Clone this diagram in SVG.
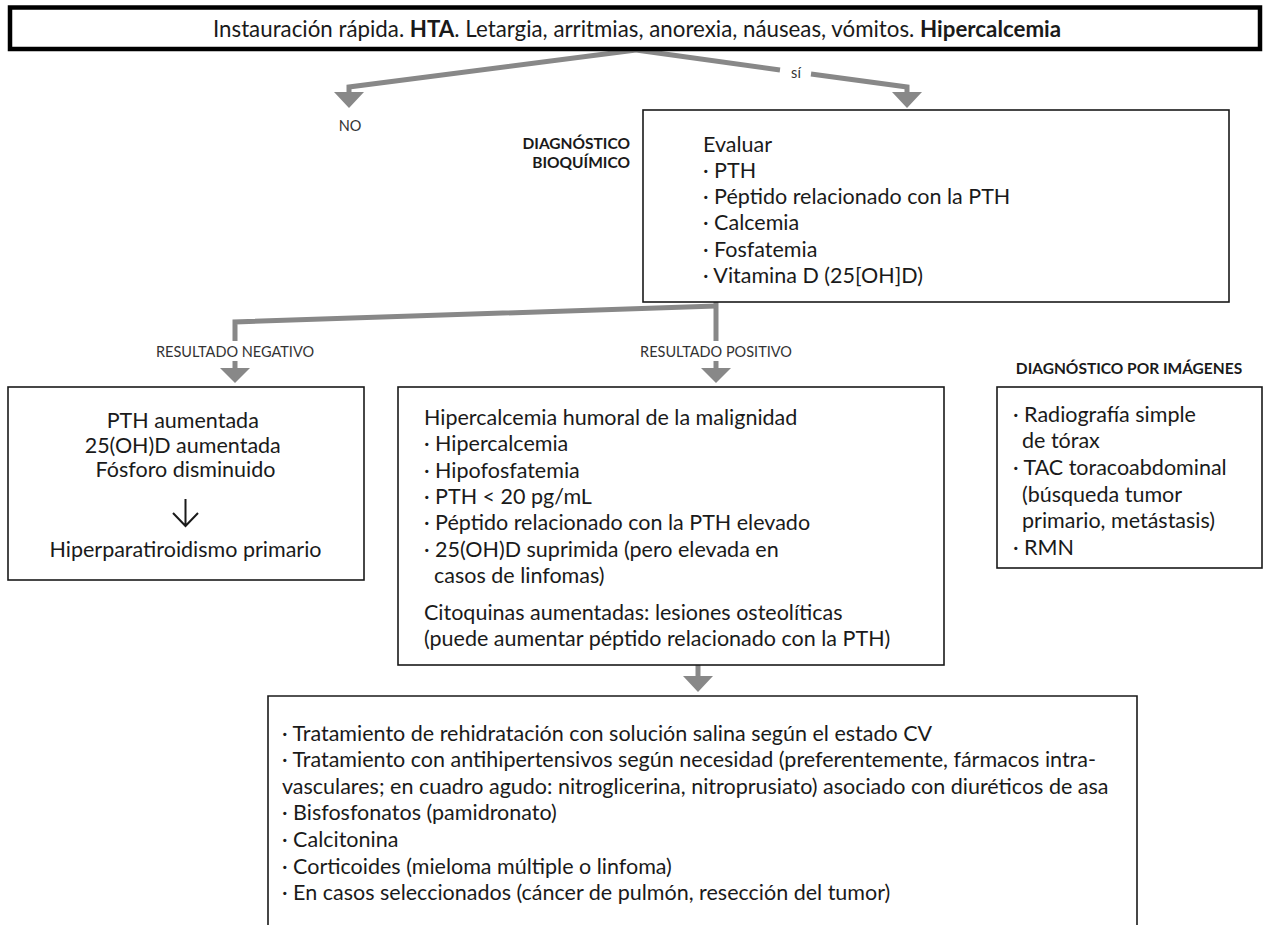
<svg xmlns="http://www.w3.org/2000/svg" width="1266" height="925" viewBox="0 0 1266 925">
  <style>
    text { font-family: "Lato", "Liberation Sans", sans-serif; fill: #1a1a1a; }
    .title { font-size: 22.3px; }
    .body { font-size: 21.5px; }
    .small { font-size: 14.5px; fill: #333; }
    .head { font-size: 15.5px; font-weight: 700; }
    .box { fill: #fff; stroke: #1a1a1a; stroke-width: 1.6; }
    .frame { fill: #fff; stroke: #000; stroke-width: 4.5; }
    .wire { fill: none; stroke: #888; stroke-width: 5; }
    .tip { fill: #888; }
  </style>

  <!-- connectors -->
  <g id="connectors">
    <polyline class="wire" points="636,50 349,87 349,94"/>
    <polygon class="tip" points="334,92 364,92 349,108"/>
    <polyline class="wire" points="636,50 780,70"/>
    <polyline class="wire" points="811,74 907,87 907,94"/>
    <polygon class="tip" points="892,92 922,92 907,108"/>
    <text class="small" x="796" y="78" text-anchor="middle">sí</text>
    <text class="small" x="350" y="131" text-anchor="middle">NO</text>

    <polyline class="wire" points="716,302 716,341"/>
    <polyline class="wire" points="716,306 235,322 235,341"/>
    <text class="small" x="235" y="357" text-anchor="middle">RESULTADO NEGATIVO</text>
    <text class="small" x="716" y="357" text-anchor="middle">RESULTADO POSITIVO</text>
    <line class="wire" x1="235" y1="361" x2="235" y2="370"/>
    <polygon class="tip" points="220,368 250,368 235,383"/>
    <line class="wire" x1="716" y1="361" x2="716" y2="370"/>
    <polygon class="tip" points="701,368 731,368 716,383"/>

    <line class="wire" x1="698" y1="665" x2="698" y2="678"/>
    <polygon class="tip" points="683,676 713,676 698,692"/>
  </g>

  <!-- presentation -->
  <g id="presentacion">
    <rect class="frame" x="10" y="7.5" width="1250" height="41.5"/>
    <text class="title" x="637" y="37" text-anchor="middle">Instauración rápida. <tspan font-weight="700">HTA</tspan>. Letargia, arritmias, anorexia, náuseas, vómitos. <tspan font-weight="700">Hipercalcemia</tspan></text>
  </g>

  <!-- biochemical work-up -->
  <g id="diagnostico-bioquimico">
    <text class="head" x="630" y="149" text-anchor="end">DIAGNÓSTICO</text>
    <text class="head" x="630" y="168" text-anchor="end">BIOQUÍMICO</text>
    <rect class="box" x="643" y="110" width="586" height="192"/>
    <text class="body">
      <tspan x="703" y="152">Evaluar</tspan>
      <tspan x="703" y="178">· PTH</tspan>
      <tspan x="703" y="204">· Péptido relacionado con la PTH</tspan>
      <tspan x="703" y="230">· Calcemia</tspan>
      <tspan x="703" y="257">· Fosfatemia</tspan>
      <tspan x="703" y="283">· Vitamina D (25[OH]D)</tspan>
    </text>
  </g>

  <!-- negative result -->
  <g id="resultado-negativo">
    <rect class="box" x="8" y="387" width="356" height="193"/>
    <text class="body" text-anchor="middle">
      <tspan x="185.5" y="428">PTH aumentada</tspan>
      <tspan x="185.5" y="453">25(OH)D aumentada</tspan>
      <tspan x="185.5" y="477">Fósforo disminuido</tspan>
    </text>
    <path d="M185.5,499 V526 M173,513 L185.5,526 L198,513" fill="none" stroke="#1a1a1a" stroke-width="2"/>
    <text class="body" x="185.5" y="557" text-anchor="middle">Hiperparatiroidismo primario</text>
  </g>

  <!-- positive result -->
  <g id="resultado-positivo">
    <rect class="box" x="398" y="387" width="546" height="278"/>
    <text class="body">
      <tspan x="424" y="425">Hipercalcemia humoral de la malignidad</tspan>
      <tspan x="424" y="451">· Hipercalcemia</tspan>
      <tspan x="424" y="478">· Hipofosfatemia</tspan>
      <tspan x="424" y="504">· PTH &lt; 20 pg/mL</tspan>
      <tspan x="424" y="530">· Péptido relacionado con la PTH elevado</tspan>
      <tspan x="424" y="557">· 25(OH)D suprimida (pero elevada en</tspan>
      <tspan x="434" y="583">casos de linfomas)</tspan>
      <tspan x="424" y="620">Citoquinas aumentadas: lesiones osteolíticas</tspan>
      <tspan x="424" y="646">(puede aumentar péptido relacionado con la PTH)</tspan>
    </text>
  </g>

  <!-- imaging -->
  <g id="diagnostico-imagenes">
    <text class="head" x="1129" y="374" text-anchor="middle">DIAGNÓSTICO POR IMÁGENES</text>
    <rect class="box" x="997" y="387" width="265" height="181"/>
    <text class="body">
      <tspan x="1013" y="422">· Radiografía simple</tspan>
      <tspan x="1022" y="448">de tórax</tspan>
      <tspan x="1013" y="475">· TAC toracoabdominal</tspan>
      <tspan x="1022" y="502">(búsqueda tumor</tspan>
      <tspan x="1022" y="528">primario, metástasis)</tspan>
      <tspan x="1013" y="555">· RMN</tspan>
    </text>
  </g>

  <!-- treatment -->
  <g id="tratamiento">
    <path class="box" d="M268,930 V696 H1137 V930"/>
    <text class="body">
      <tspan x="282" y="741">· Tratamiento de rehidratación con solución salina según el estado CV</tspan>
      <tspan x="282" y="767">· Tratamiento con antihipertensivos según necesidad (preferentemente, fármacos intra-</tspan>
      <tspan x="282" y="794">vasculares; en cuadro agudo: nitroglicerina, nitroprusiato) asociado con diuréticos de asa</tspan>
      <tspan x="282" y="820">· Bisfosfonatos (pamidronato)</tspan>
      <tspan x="282" y="847">· Calcitonina</tspan>
      <tspan x="282" y="874">· Corticoides (mieloma múltiple o linfoma)</tspan>
      <tspan x="282" y="900">· En casos seleccionados (cáncer de pulmón, resección del tumor)</tspan>
    </text>
  </g>
</svg>
